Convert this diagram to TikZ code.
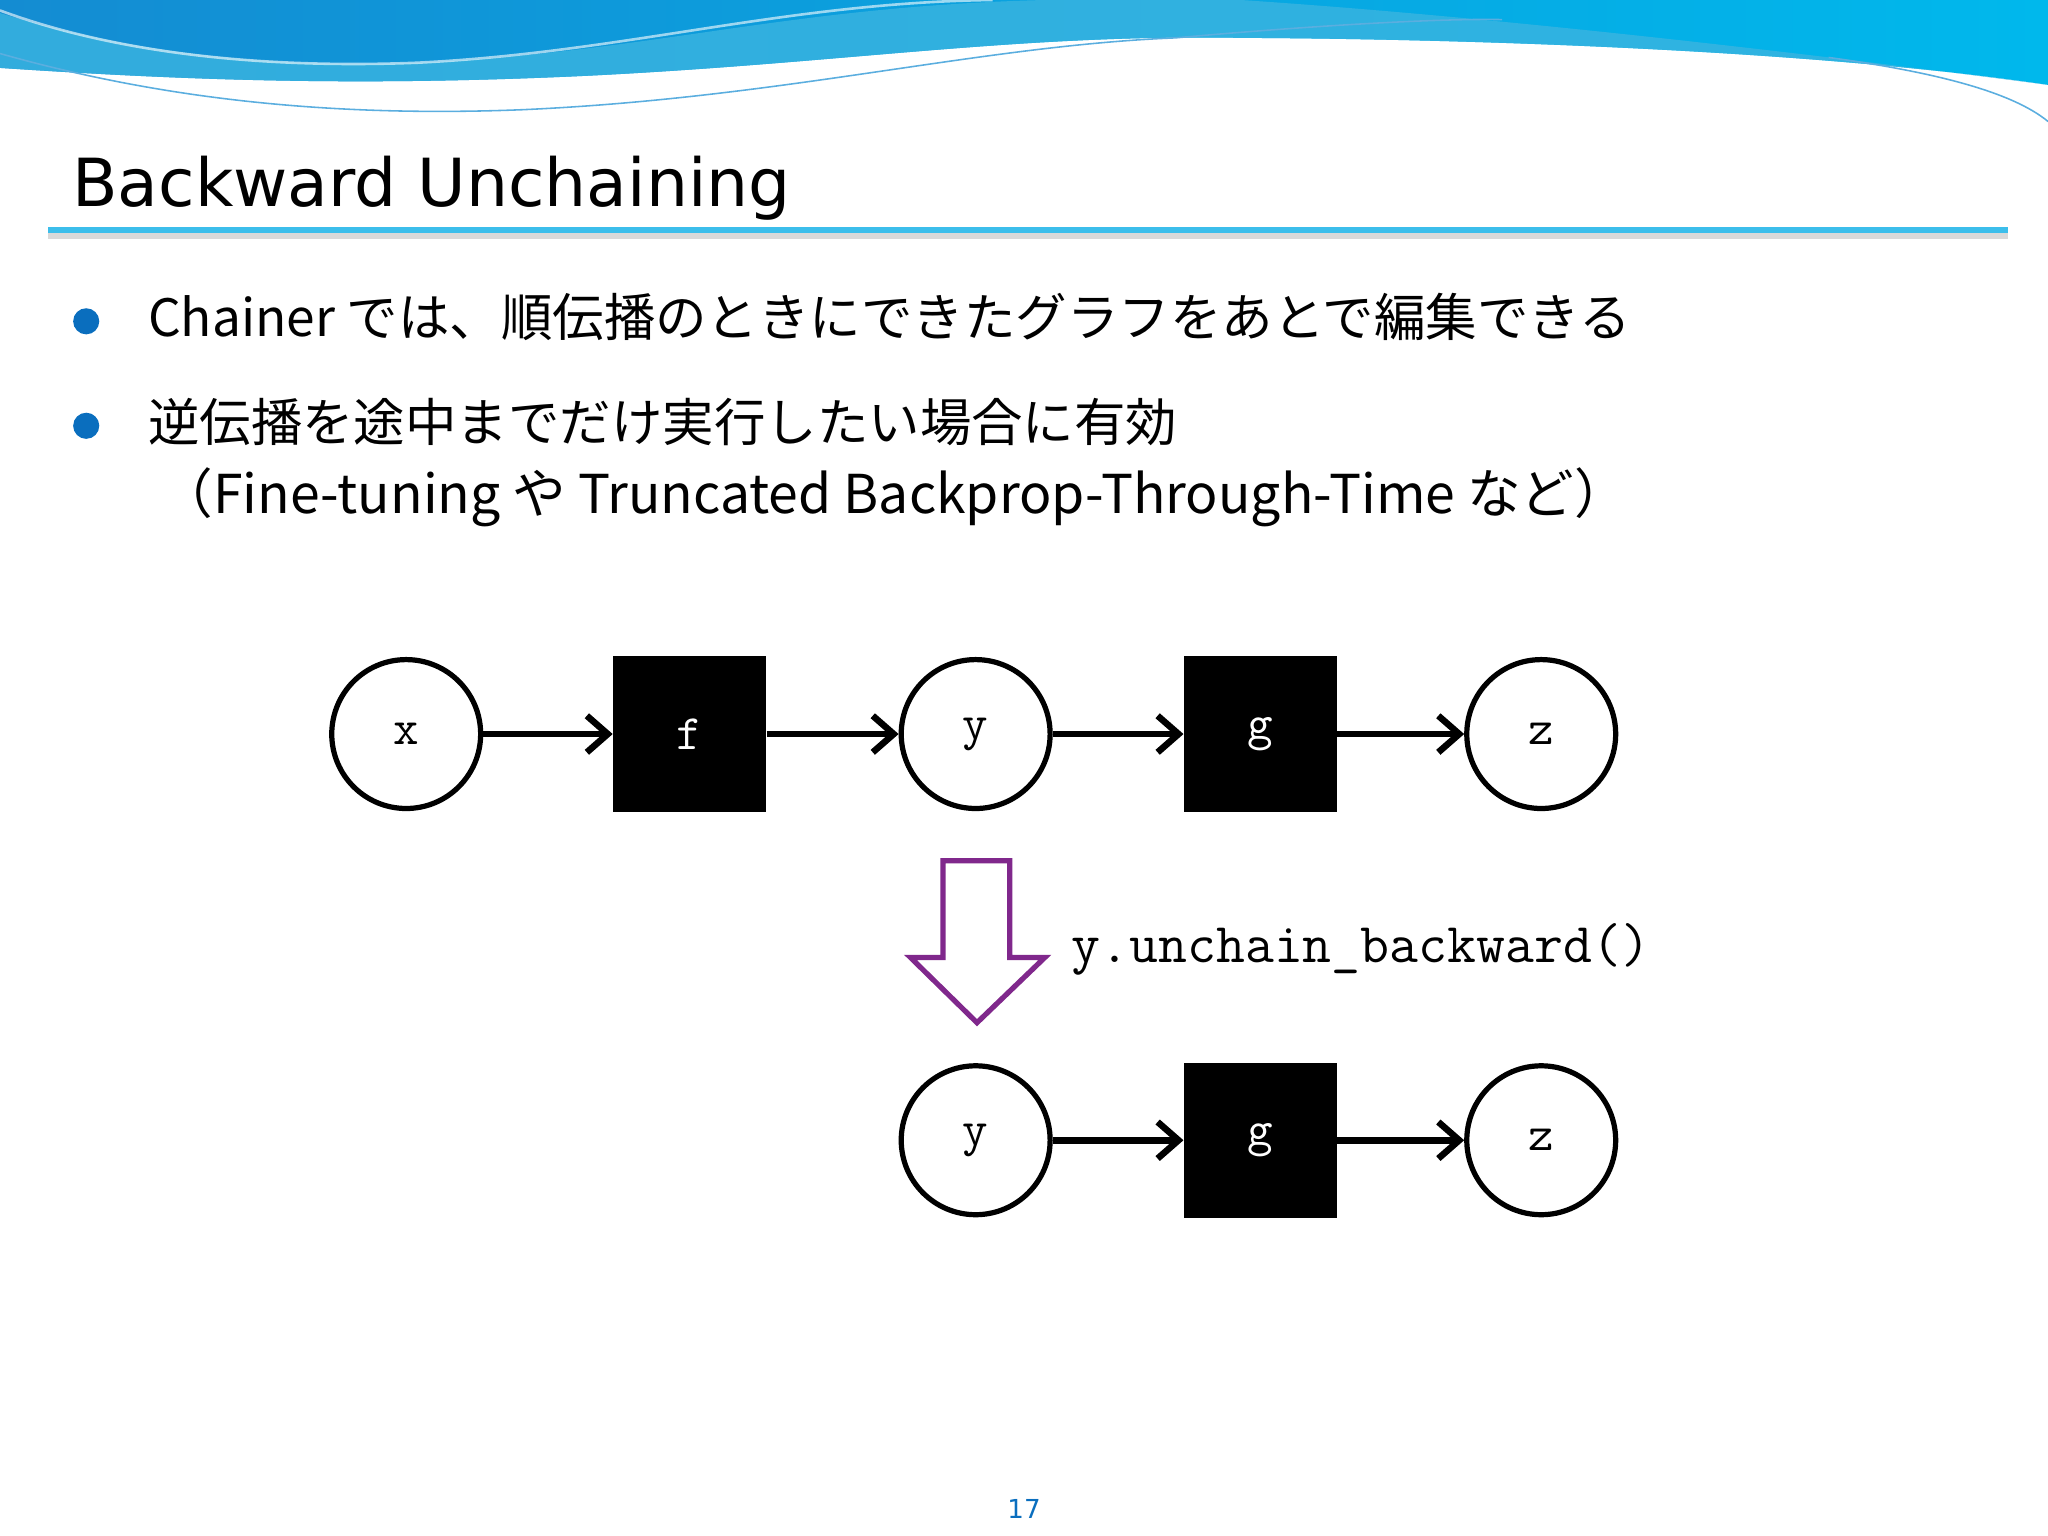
\documentclass[tikz,border=0pt]{standalone}
\usepackage{fontspec}
\setmainfont{DejaVu Sans}
\newfontfamily\jp{Noto Sans CJK JP}
\setmonofont{Latin Modern Mono}
\usetikzlibrary{arrows.meta}
\definecolor{wblue}{RGB}{20,140,210}
\definecolor{wcyan}{RGB}{0,184,236}
\definecolor{wband}{RGB}{58,180,224}
\definecolor{tline}{RGB}{60,190,235}
\definecolor{bul}{RGB}{10,110,190}
\definecolor{purp}{RGB}{128,40,140}
\tikzset{
 circ/.style={circle,draw,line width=2pt,minimum size=57pt,inner sep=0pt,font=\ttfamily\fontsize{19}{19}\selectfont},
 sq/.style={rectangle,fill=black,minimum width=58.5pt,minimum height=59.5pt,inner sep=0pt,text=white,font=\ttfamily\fontsize{19}{19}\selectfont},
 arr/.style={line width=2.5pt,-{Straight Barb[length=8pt,width=14pt,line width=2.5pt]}},
}
\begin{document}
\begin{tikzpicture}[x=0.5pt,y=-0.5pt]
\useasboundingbox (0,0) rectangle (1568,1176);
% wave
\shade[left color=wblue,right color=wcyan] (0,0) -- (0,52) .. controls (150,62) and (280,66) .. (450,58) .. controls (650,48) and (780,26) .. (950,29) .. controls (1150,30) and (1400,40) .. (1568,65) -- (1568,0) -- cycle;
\fill[wband,opacity=0.8] (0,10) .. controls (100,40) and (200,52) .. (320,48) .. controls (500,40) and (600,5) .. (800,0) -- (950,0) .. controls (1100,10) and (1300,30) .. (1568,65) .. controls (1400,40) and (1150,30) .. (950,29) .. controls (780,26) and (650,48) .. (450,58) .. controls (280,66) and (150,62) .. (0,52) -- cycle;
\draw[white,opacity=0.6,line width=1pt] (0,8) .. controls (100,45) and (220,52) .. (320,48) .. controls (480,40) and (600,2) .. (760,0);
\draw[wblue!70,line width=0.6pt] (0,41) .. controls (120,75) and (250,90) .. (400,84) .. controls (600,75) and (750,35) .. (900,29) .. controls (1000,20) and (1100,14) .. (1150,15);
\draw[wblue!70,line width=0.6pt] (1400,44) .. controls (1480,55) and (1540,70) .. (1568,93);
% title
\node[anchor=base west,inner sep=0pt,font=\fontsize{25.4}{26}\selectfont] (title) at (55,158) {Backward Unchaining};
\draw[black!15,line width=3pt] (37,180) -- (1537,180);
\draw[tline,line width=2.2pt] (37,176) -- (1537,176);
% bullets
\fill[bul] (66,246) circle (10);
\fill[bul] (66,326) circle (10);
\node[anchor=west,inner sep=0pt,font=\jp\fontsize{19.7}{20}\selectfont] (b1) at (113,243) {Chainer では、順伝播のときにできたグラフをあとで編集できる};
\node[anchor=west,inner sep=0pt,font=\jp\fontsize{19.7}{20}\selectfont] (b2) at (113,323) {逆伝播を途中までだけ実行したい場合に有効};
\node[anchor=west,inner sep=0pt,font=\jp\fontsize{20.5}{21}\selectfont] (b3) at (122,381) {（Fine-tuning や Truncated Backprop-Through-Time など）};
% graph
\node[circ] (x) at (311,562) {x};
\node[sq] (f) at (528,562) {f};
\node[circ] (y) at (747,562) {y};
\node[sq] (g) at (965,562) {g};
\node[circ] (z) at (1180,562) {z};
\draw[arr] (x) -- (f);
\draw[arr] (f) -- (y);
\draw[arr] (y) -- (g);
\draw[arr] (g) -- (z);
\node[circ] (y2) at (747,873) {y};
\node[sq] (g2) at (965,873) {g};
\node[circ] (z2) at (1180,873) {z};
\draw[arr] (y2) -- (g2);
\draw[arr] (g2) -- (z2);
% hollow arrow
\draw[purp,line width=2pt,fill=white] (722,659) -- (773,659) -- (773,733) -- (800,733) -- (748,783) -- (697,733) -- (722,733) -- cycle;
\node[anchor=west,inner sep=0pt,font=\ttfamily\fontsize{21.5}{22}\selectfont] (lab) at (820,727) {y.unchain\_backward()};
\node[text=bul,font=\fontsize{10}{10}\selectfont] (pg) at (784,1155) {17};
\end{tikzpicture}
\end{document}
